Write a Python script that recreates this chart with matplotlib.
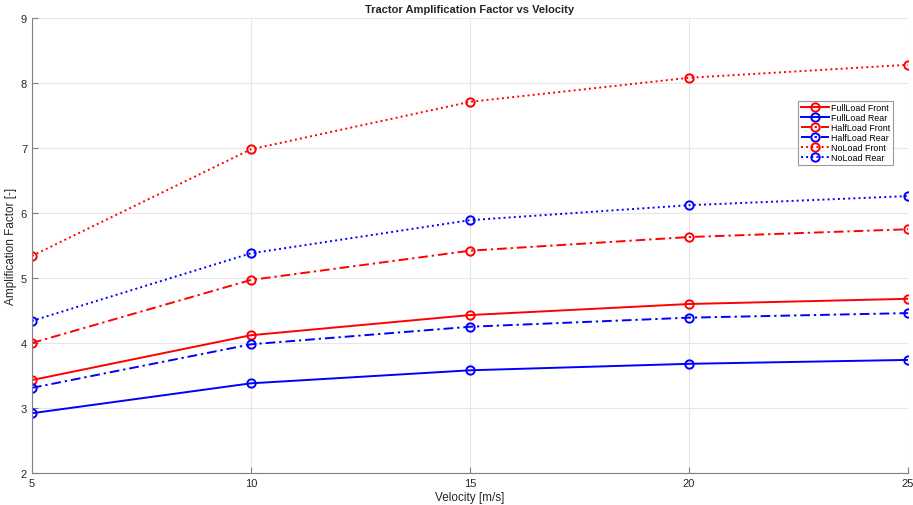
import numpy as np
import matplotlib.pyplot as plt

# Tractor amplification factor for each load case at several velocities.
velocity = [5, 10, 15, 20, 25]

fullload_front = [3.43, 4.12, 4.43, 4.60, 4.68]
fullload_rear = [2.92, 3.38, 3.58, 3.68, 3.74]
halfload_front = [4.00, 4.97, 5.42, 5.63, 5.75]
halfload_rear = [3.31, 3.98, 4.25, 4.39, 4.46]
noload_front = [5.34, 6.98, 7.71, 8.08, 8.28]
noload_rear = [4.34, 5.38, 5.89, 6.12, 6.26]

series = [
    ('FullLoad Front', fullload_front, 'red', '-'),
    ('FullLoad Rear', fullload_rear, 'blue', '-'),
    ('HalfLoad Front', halfload_front, 'red', (0, (5, 2, 1.2, 2))),
    ('HalfLoad Rear', halfload_rear, 'blue', (0, (5, 2, 1.2, 2))),
    ('NoLoad Front', noload_front, 'red', ':'),
    ('NoLoad Rear', noload_rear, 'blue', ':'),
]

plt.rcParams['font.family'] = 'Liberation Sans'

fig = plt.figure(figsize=(9.13, 5.06), dpi=100)
ax = fig.add_axes([0.035, 0.0632, 0.9595, 0.8993])

for label, values, color, style in series:
    ax.plot(velocity, values, color=color, linestyle=style, linewidth=1.4,
            marker='o', markersize=6, markerfacecolor='none',
            markeredgewidth=1.4, label=label)

ax.set_xlim(5, 25)
ax.set_ylim(2, 9)
ax.set_xticks([5, 10, 15, 20, 25])
ax.set_yticks(np.arange(2, 10, 1))
ax.grid(True, color='#e6e6e6', linewidth=0.8)
ax.set_axisbelow(True)

for side in ('top', 'right'):
    ax.spines[side].set_visible(False)
for side in ('left', 'bottom'):
    ax.spines[side].set_color('#808080')
ax.tick_params(direction='in', length=4, colors='#808080',
               labelcolor='#262626', labelsize=8)

ax.set_xlabel('Velocity [m/s]', fontsize=8.5, color='#262626', labelpad=2)
ax.set_ylabel('Amplification Factor [-]', fontsize=8.5, color='#262626', labelpad=3)
ax.set_title('Tractor Amplification Factor vs Velocity', fontsize=8,
             fontweight='bold', color='#262626', pad=4)

leg = ax.legend(loc='upper left', bbox_to_anchor=(0.875, 0.818), fontsize=6.4,
                frameon=True, fancybox=False, handlelength=3.1,
                handletextpad=0.3, labelspacing=0.1, borderpad=0.3,
                borderaxespad=0)
leg.get_frame().set_edgecolor('#808080')
leg.get_frame().set_linewidth(0.8)

fig.savefig('out.png', dpi=100)
